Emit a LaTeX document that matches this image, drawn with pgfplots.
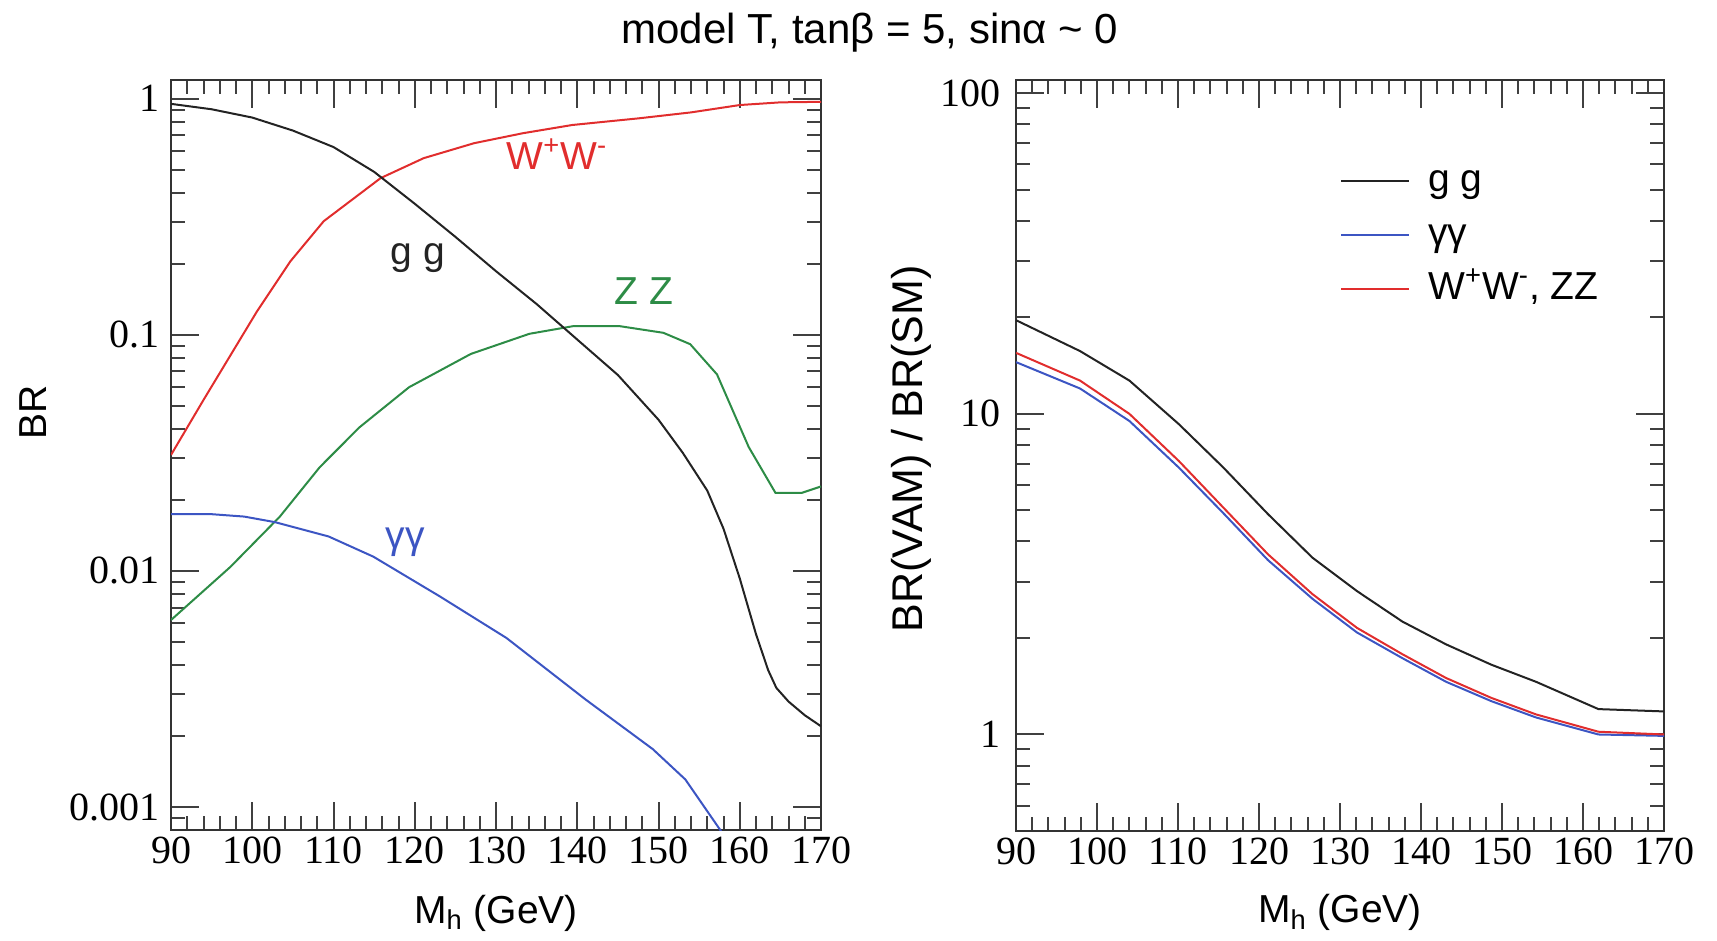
\documentclass[border=0pt]{standalone}
\usepackage{pgfplots}
\pgfplotsset{compat=1.18}
\usepackage{fontspec}
\setmainfont{Liberation Serif}
\newfontfamily\sansf{Liberation Sans}
\definecolor{cred}{RGB}{225,45,45}
\definecolor{cgreen}{RGB}{45,140,70}
\definecolor{cblue}{RGB}{60,85,195}
\definecolor{cblack}{RGB}{35,35,35}
\begin{document}
\begin{tikzpicture}
\useasboundingbox (0,0) rectangle (858.5pt,470.5pt);
\node[font=\sansf\fontsize{21}{21}\selectfont] at (435pt,454pt) {model T, tanβ = 5, sinα \textasciitilde{} 0};
% left panel
\begin{axis}[ymode=log, scale only axis, at={(85.5pt,55.5pt)}, anchor=south west,
  width=325pt, height=375pt, xmin=90, xmax=170, ymin=0.0008, ymax=1.2,
  xtick={90,100,110,120,130,140,150,160,170}, minor x tick num=4,
  tick align=inside, tick pos=both, ticklabel pos=left,
  major tick length=14pt, minor tick length=7pt,
  axis line style={line width=1pt, black!80},
  every tick/.style={black!75, line width=1pt},
  tick label style={font=\fontsize{20}{20}\selectfont},
  /pgf/number format/assume math mode=true,
  label style={font=\sansf\fontsize{19.5}{20}\selectfont},
  yticklabel style={xshift=-2pt},
  xlabel={M\textsubscript{h} (GeV)},
  ytick={0.001,0.01,0.1,1}, yticklabels={0.001,0.01,0.1,1},
  minor ytick={0.0009,0.002,0.003,0.004,0.005,0.006,0.007,0.008,0.009,0.02,0.03,0.04,0.05,0.06,0.07,0.08,0.09,0.2,0.3,0.4,0.5,0.6,0.7,0.8,0.9},
  ylabel={BR}, ylabel style={at={(axis description cs:-0.212,0.557)}, anchor=center},
  xlabel style={at={(axis description cs:0.5,-0.124)}, anchor=base},
]
\addplot[cgreen, line width=1pt, no marks] coordinates {(90,0.0062) (97.3,0.0104) (103.4,0.017) (108.3,0.0275) (113.2,0.0406) (119.3,0.060) (126.9,0.083) (134.1,0.101) (139.6,0.109) (145.1,0.109) (150.6,0.102) (153.9,0.0913) (157.2,0.068) (161.1,0.0335) (164.4,0.0214) (167.6,0.0214) (170,0.0228)};
\addplot[cblue, line width=1pt, no marks] coordinates {(90,0.0174) (95,0.0174) (99,0.0170) (102.8,0.0161) (109.4,0.014) (114.9,0.0115) (123.1,0.0078) (131.3,0.0052) (141.0,0.00286) (149.3,0.00176) (153.3,0.00131) (157.6,0.0008) (158.5,0.0007)};
\addplot[cred, line width=1pt, no marks] coordinates {(90,0.031) (94,0.053) (100.6,0.126) (104.7,0.205) (108.8,0.303) (115.8,0.461) (121.1,0.56) (127.3,0.648) (133.3,0.714) (139.4,0.774) (147.6,0.826) (154,0.875) (160,0.94) (165,0.965) (170,0.97)};
\addplot[cblack, line width=1pt, no marks] coordinates {(90,0.951) (95,0.902) (100,0.832) (105,0.733) (110,0.624) (115,0.49) (120,0.359) (125,0.26) (130,0.186) (135,0.135) (140,0.0955) (145,0.0676) (150,0.0437) (153,0.0316) (156,0.0219) (158,0.0151) (160,0.0093) (162,0.0054) (163.5,0.0038) (164.5,0.0032) (166,0.0028) (168,0.00245) (170,0.0022)};
\node[text=cred, font=\sansf\fontsize{19.5}{20}\selectfont] at (axis cs:137.5,0.58) {W\textsuperscript{+}W\textsuperscript{-}};
\node[text=cblack, font=\sansf\fontsize{19.5}{20}\selectfont] at (axis cs:120.4,0.211) {g g};
\node[text=cgreen, font=\sansf\fontsize{19.5}{20}\selectfont] at (axis cs:148.2,0.153) {Z Z};
\node[text=cblue, font=\sansf\fontsize{19.5}{20}\selectfont] at (axis cs:118.8,0.0133) {γγ};
\end{axis}
% right panel
\begin{axis}[ymode=log, scale only axis, at={(508pt,55pt)}, anchor=south west,
  width=324pt, height=375.5pt, xmin=90, xmax=170, ymin=0.5, ymax=110,
  xtick={90,100,110,120,130,140,150,160,170}, minor x tick num=4,
  tick align=inside, tick pos=both, ticklabel pos=left,
  major tick length=14pt, minor tick length=7pt,
  axis line style={line width=1pt, black!80},
  every tick/.style={black!75, line width=1pt},
  tick label style={font=\fontsize{20}{20}\selectfont},
  /pgf/number format/assume math mode=true,
  label style={font=\sansf\fontsize{19.5}{20}\selectfont},
  yticklabel style={xshift=-4pt},
  xlabel={M\textsubscript{h} (GeV)},
  ytick={1,10,100}, yticklabels={1,10,100},
  minor ytick={0.6,0.7,0.8,0.9,2,3,4,5,6,7,8,9,20,30,40,50,60,70,80,90},
  ylabel={BR(VAM) / BR(SM)}, ylabel style={font=\sansf\fontsize{21.5}{22}\selectfont, at={(axis description cs:-0.162,0.509)}, anchor=center},
  xlabel style={at={(axis description cs:0.5,-0.1225)}, anchor=base},
  legend style={at={(axis description cs:0.50,0.895)}, anchor=north west, draw=none, fill=none,
    font=\sansf\fontsize{19.5}{20}\selectfont, inner sep=0pt, row sep=5pt, column sep=7pt,
    nodes={inner sep=2pt, text height=14pt, text depth=4pt}},
  legend image code/.code={\draw[#1, line width=1pt] (0pt,0pt) -- (34pt,0pt);},
  legend cell align=left,
]
\addplot[cblack, line width=1pt, no marks] coordinates {(90,19.6) (97.9,15.7) (104,12.7) (110.1,9.29) (115.6,6.8) (121.1,4.87) (126.6,3.56) (132.1,2.80) (137.7,2.25) (143.1,1.91) (148.7,1.65) (154.2,1.46) (161.9,1.20) (170,1.18)};
\addlegendentry{g g}
\addplot[cblue, line width=1pt, no marks] coordinates {(90,14.5) (97.9,12.0) (104,9.5) (110.1,6.8) (115.6,4.9) (121.1,3.5) (126.6,2.65) (132.1,2.08) (137.7,1.73) (143.1,1.46) (148.7,1.27) (154.2,1.13) (161.9,1.0) (170,0.99)};
\addlegendentry{γγ}
\addplot[cred, line width=1pt, no marks] coordinates {(90,15.5) (97.9,12.7) (104,10.0) (110.1,7.13) (115.6,5.1) (121.1,3.65) (126.6,2.74) (132.1,2.15) (137.7,1.78) (143.1,1.50) (148.7,1.30) (154.2,1.155) (161.9,1.02) (170,1.0)};
\addlegendentry{W\textsuperscript{+}W\textsuperscript{-}, ZZ}
\end{axis}
\end{tikzpicture}
\end{document}
